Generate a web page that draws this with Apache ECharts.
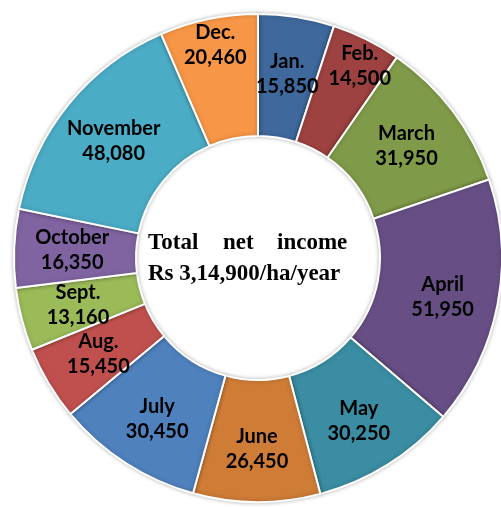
<!DOCTYPE html>
<html>
<head>
<meta charset="utf-8">
<script src="https://cdn.jsdelivr.net/npm/echarts@6/dist/echarts.min.js"></script>
<style>
  html, body { margin: 0; padding: 0; background: #fff; }
  #chart { width: 501px; height: 507px; }
</style>
</head>
<body>
<div id="chart"></div>
<script>
// monthly net income, Rs/ha
var months = ['Jan.', 'Feb.', 'March', 'April', 'May', 'June', 'July', 'Aug.', 'Sept.', 'October', 'November', 'Dec.'];
var income = [15850, 14500, 31950, 51950, 30250, 26450, 30450, 15450, 13160, 16350, 48080, 20460];
var colors = ['#3f689c', '#9d4240', '#7f9a48', '#674f85', '#3a8da2', '#cf7c37',
              '#4f81bd', '#c0504d', '#9bbb59', '#8064a2', '#4bacc6', '#f79646'];

// manual nudges for a few labels (dx, dy), like in the original
var labelShift = {
  'Feb.': [19, -25],
  'Dec.': [-5, -31],
  'June': [0, 5],
  'April': [2, 4],
  'May': [2, 5],
  'July': [0, 5]
};

var chartDom = document.getElementById('chart');
var myChart = echarts.init(chartDom);
var option;

var pieData = months.map(function (m, i) {
  return { name: m, value: income[i], itemStyle: { color: colors[i] } };
});

option = {
  animation: false,
  graphic: [
    { type: 'text', left: 148, top: 232, style: { text: 'Total', font: 'bold 23px "Liberation Serif"', fill: '#000' } },
    { type: 'text', left: 223, top: 232, style: { text: 'net', font: 'bold 23px "Liberation Serif"', fill: '#000' } },
    { type: 'text', left: 277, top: 232, style: { text: 'income', font: 'bold 23px "Liberation Serif"', fill: '#000' } },
    { type: 'text', left: 148, top: 263, style: { text: 'Rs 3,14,900/ha/year', font: 'bold 23px "Liberation Serif"', fill: '#000' } }
  ],
  series: [
    {
      type: 'pie',
      center: [258, 258],
      radius: [122, 244],
      startAngle: 90,
      avoidLabelOverlap: false,
      data: pieData,
      itemStyle: {
        borderColor: '#fff',
        borderWidth: 2,
        shadowBlur: 4,
        shadowColor: 'rgba(0,0,0,0.25)'
      },
      label: {
        position: 'inside',
        formatter: function (p) {
          return p.name + '\n' + p.value.toLocaleString('en-US');
        },
        fontFamily: 'Lato',
        fontWeight: 'bold',
        fontSize: 20,
        lineHeight: 25,
        color: '#000'
      },
      labelLayout: function (params) {
        var s = labelShift[months[params.dataIndex]];
        return s ? { dx: s[0], dy: s[1] } : {};
      },
      labelLine: { show: false },
      emphasis: { disabled: true }
    }
  ]
};

option && myChart.setOption(option);
</script>
</body>
</html>
